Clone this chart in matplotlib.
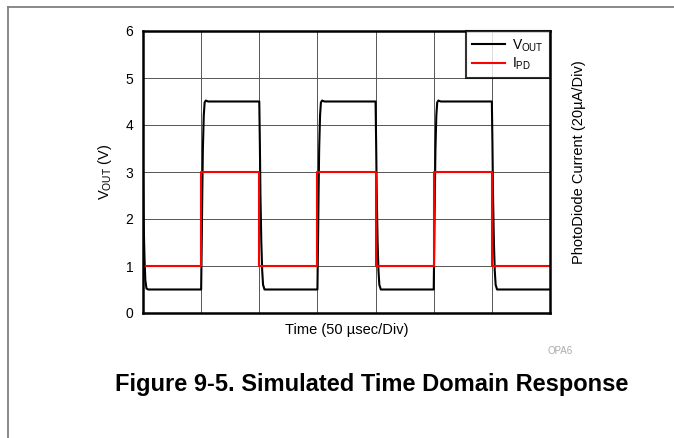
import matplotlib
matplotlib.use("Agg")
import matplotlib.pyplot as plt
from matplotlib.lines import Line2D

plt.rcParams['font.family'] = ['Liberation Sans', 'DejaVu Sans']
plt.rcParams['mathtext.fontset'] = 'custom'
plt.rcParams['mathtext.rm'] = 'Liberation Sans'
plt.rcParams['mathtext.it'] = 'Liberation Sans'

# Time in divisions (50 usec/div)
vout_t = [0.0, 0.01, 0.025, 0.04, 0.06, 0.09,
          1.0, 1.01, 1.02, 1.03, 1.045, 1.06, 1.08, 1.12,
          2.0, 2.01, 2.02, 2.035, 2.05, 2.065, 2.09,
          3.0, 3.01, 3.02, 3.03, 3.045, 3.06, 3.08, 3.12,
          4.0, 4.01, 4.02, 4.035, 4.05, 4.065, 4.09,
          5.0, 5.01, 5.02, 5.03, 5.045, 5.06, 5.08, 5.12,
          6.0, 6.01, 6.02, 6.035, 6.05, 6.065, 6.09,
          7.0]
vout_v = [2.95, 2.0, 1.2, 0.7, 0.52, 0.5,
          0.5, 1.5, 2.6, 3.5, 4.2, 4.48, 4.52, 4.5,
          4.5, 3.6, 2.5, 1.5, 0.9, 0.6, 0.5,
          0.5, 1.5, 2.6, 3.5, 4.2, 4.48, 4.52, 4.5,
          4.5, 3.6, 2.5, 1.5, 0.9, 0.6, 0.5,
          0.5, 1.5, 2.6, 3.5, 4.2, 4.48, 4.52, 4.5,
          4.5, 3.6, 2.5, 1.5, 0.9, 0.6, 0.5,
          0.5]

ipd_t = [0.0, 1.0, 1.0, 2.0, 2.0, 3.0, 3.0, 4.0, 4.0, 5.0, 5.0, 6.0, 6.0, 7.0]
ipd_v = [1, 1, 3, 3, 1, 1, 3, 3, 1, 1, 3, 3, 1, 1]

y_ticks = [0, 1, 2, 3, 4, 5, 6]
x_grid = [1, 2, 3, 4, 5, 6]

W, H = 674, 438
fig = plt.figure(figsize=(W / 100, H / 100), dpi=100)

# page frame lines
fig.add_artist(Line2D([8 / W, 8 / W], [0, 1 - 7 / H], color='#808080', lw=1.3))
fig.add_artist(Line2D([8 / W, 1], [1 - 7 / H, 1 - 7 / H], color='#808080', lw=1.3))

ax = fig.add_axes([143 / W, 1 - 313 / H, 407 / W, 282 / H])
ax.set_xlim(0, 7)
ax.set_ylim(0, 6)
ax.set_yticks(y_ticks)
ax.set_xticks(x_grid)
ax.tick_params(axis='x', length=0, labelbottom=False)
ax.tick_params(axis='y', length=0, labelsize=10, pad=7)
ax.grid(True, color='#555555', lw=0.7)
ax.set_axisbelow(True)
for s in ax.spines.values():
    s.set_linewidth(1.8)
    s.set_zorder(5)

ax.plot(vout_t, vout_v, color='black', lw=1.5, label='V$_{\\mathrm{OUT}}$', zorder=3)
ax.plot(ipd_t, ipd_v, color='#ff0000', lw=1.5, label='I$_{\\mathrm{PD}}$', zorder=4)

leg = ax.legend(loc='upper right', fontsize=10, frameon=True, fancybox=False,
                borderaxespad=0, handlelength=2.4, handletextpad=0.5,
                labelspacing=0.15, borderpad=0.45)
leg.get_frame().set_edgecolor('black')
leg.get_frame().set_linewidth(1.5)
leg.set_zorder(6)

ax.set_ylabel('V$_{\\mathrm{OUT}}$ (V)', fontsize=10.5, labelpad=8)
ax.set_xlabel('Time (50 \u00b5sec/Div)', fontsize=10.5, labelpad=7)

fig.text(579 / W, 1 - 162 / H, 'PhotoDiode Current (20\u00b5A/Div)', rotation=90,
         fontsize=10.5, ha='center', va='center')
fig.text(573 / W, 1 - 351 / H, 'OPA6', fontsize=7, color='#aaaaaa', ha='right', va='center')
fig.text(372 / W, 1 - 384 / H, 'Figure 9-5. Simulated Time Domain Response',
         fontsize=17, fontweight='bold', ha='center', va='center')

fig.savefig('out.png', dpi=100)
